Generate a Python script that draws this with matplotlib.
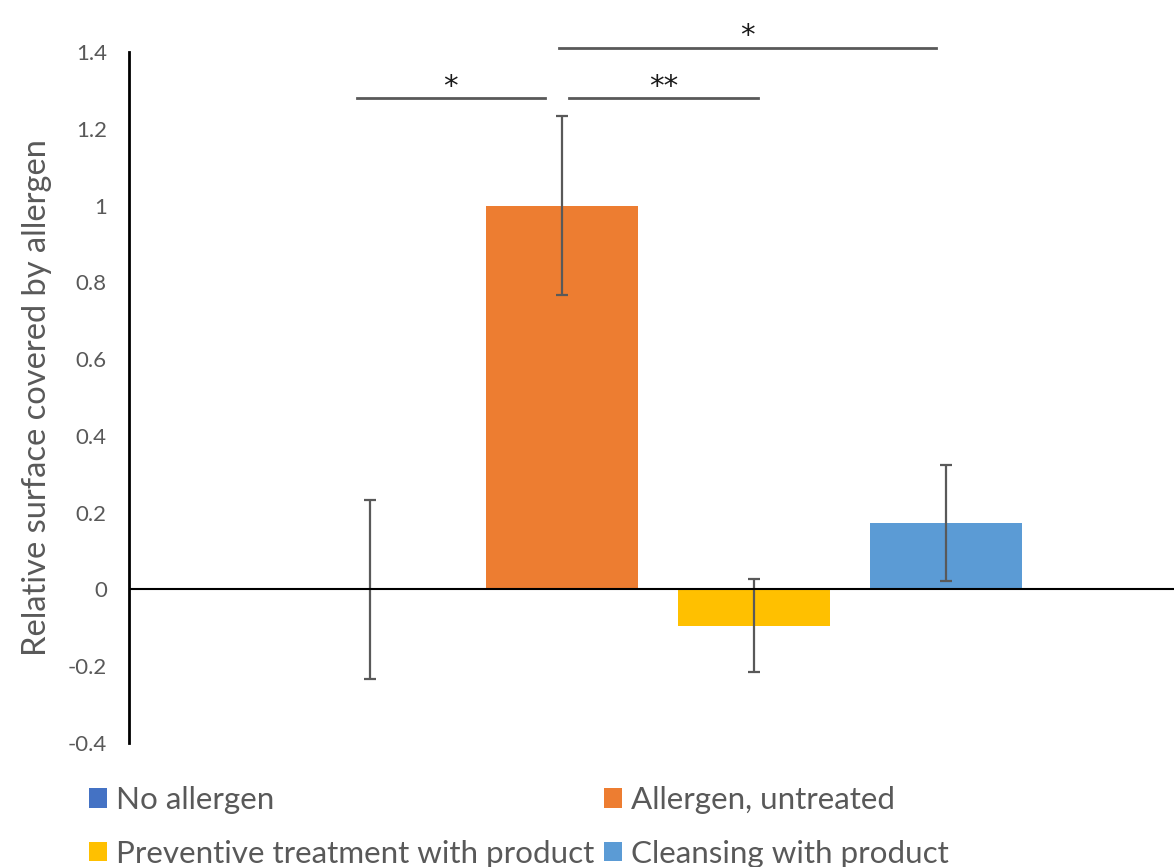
import matplotlib
matplotlib.use('Agg')
import matplotlib.pyplot as plt
import numpy as np

# groups and their values
groups = ['No allergen', 'Allergen, untreated', 'Preventive treatment with product', 'Cleansing with product']
values = [0.0, 1.0, -0.094, 0.172]
errors = [0.232, 0.232, 0.12, 0.151]
colors = ['#4472C4', '#ED7D31', '#FFC000', '#5B9BD5']

# significance brackets: (x start, x end, y level, label)
sig_x0 = [-0.068, 1.036, 0.984]
sig_x1 = [0.911, 2.021, 2.948]
sig_y = [1.279, 1.279, 1.411]
sig_labels = ['*', '**', '*']

yticks = [-0.4, -0.2, 0, 0.2, 0.4, 0.6, 0.8, 1, 1.2, 1.4]
ytick_labels = ['-0.4', '-0.2', '0', '0.2', '0.4', '0.6', '0.8', '1', '1.2', '1.4']

grey = '#595959'
plt.rcParams['font.family'] = ['Lato', 'DejaVu Sans']

W, H = 1174, 867
fig = plt.figure(figsize=(W / 100, H / 100), dpi=100)
ax = fig.add_axes([129 / W, (H - 743) / H, (W - 129) / W, (743 - 52) / H])

x = np.arange(len(groups))
bars = []
for i in range(len(groups)):
    b = ax.bar(x[i], values[i], width=0.79, color=colors[i], label=groups[i], zorder=2)
    bars.append(b)
ax.errorbar(x, values, yerr=errors, fmt='none', ecolor=grey, elinewidth=1.6,
            capsize=4.5, capthick=1.6, zorder=3)

ax.axhline(0, color='black', lw=1.5, zorder=4)

for x0, x1, yy, lab in zip(sig_x0, sig_x1, sig_y, sig_labels):
    ax.plot([x0, x1], [yy, yy], color=grey, lw=2, clip_on=False)
    ax.text((x0 + x1) / 2, yy + 0.01, lab, ha='center', va='baseline', fontsize=21,
            color='#1a1a1a', family='DejaVu Sans', clip_on=False)

ax.set_xlim(-1.255, 4.1875)
ax.set_ylim(-0.4, 1.4)
ax.set_yticks(yticks)
ax.set_yticklabels(ytick_labels, fontsize=16, color=grey)
ax.set_xticks([])
ax.tick_params(axis='y', length=0, pad=16)
for s in ['top', 'right', 'bottom']:
    ax.spines[s].set_visible(False)
ax.spines['left'].set_linewidth(2)
ax.spines['left'].set_color('black')

ax.set_ylabel('Relative surface covered by allergen', fontsize=23.5, color=grey, labelpad=11)

order = [0, 2, 1, 3]
handles = [bars[i] for i in order]
labels = [groups[i] for i in order]
fig.legend(handles, labels, loc='upper left', bbox_to_anchor=(89 / W, 1 - 786 / H),
           ncol=2, frameon=False, fontsize=22.6, labelcolor=grey, handlelength=0.58,
           handleheight=0.58, handletextpad=0.28, columnspacing=0.3, borderpad=0,
           borderaxespad=0, labelspacing=0.82)

fig.savefig('out.png', dpi=100)
